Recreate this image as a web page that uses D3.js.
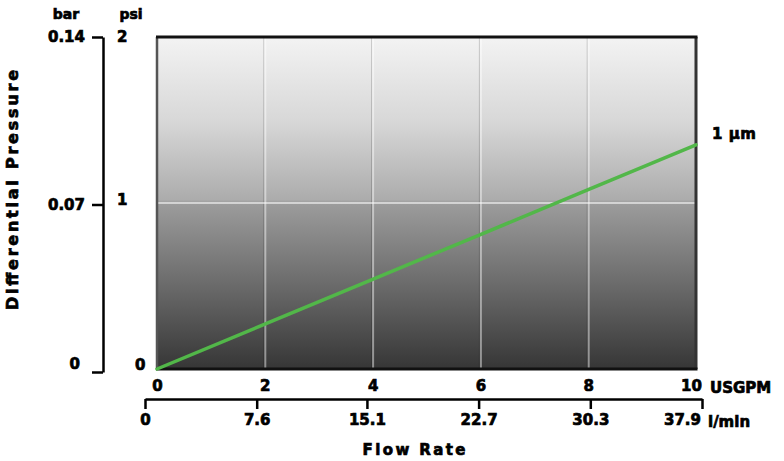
<!DOCTYPE html>
<html>
<head>
<meta charset="utf-8">
<script src="https://cdn.jsdelivr.net/npm/d3@7"></script>
<style>
  html, body { margin: 0; padding: 0; background: #fff; }
  svg text { font-family: "DejaVu Sans", "Liberation Sans", sans-serif; font-weight: bold; fill: #000; stroke: #000; stroke-width: 0.7px; }
</style>
</head>
<body>
<svg id="chart" width="784" height="461"></svg>
<script>
// ---- data ----
const usgpmTicks = [0, 2, 4, 6, 8, 10];
const lminTicks = [0, 7.6, 15.1, 22.7, 30.3, 37.9];
const psiTicks = [0, 1, 2];
const barTicks = [0, 0.07, 0.14];
const flowGPM = [0, 2, 4, 6, 8, 10];
const dpPsi = [0, 0.27, 0.54, 0.81, 1.08, 1.35];
const seriesLabel = "1 µm";

const svg = d3.select("#chart");

// ---- scales ----
const x = d3.scaleLinear().domain([0, 10]).range([157, 696]);
const yPsi = d3.scaleLinear().domain([0, 2]).range([369, 37]);
const yBar = d3.scaleLinear().domain([0, 0.14]).range([372, 37]);
const xL = d3.scaleLinear().domain([0, 37.9]).range([145, 702]);

// ---- background gradient ----
const defs = svg.append("defs");
const grad = defs.append("linearGradient").attr("id", "bg")
  .attr("x1", 0).attr("y1", 0).attr("x2", 0).attr("y2", 1);
[[0, "#f3f3f3"], [0.25, "#d8d8d8"], [0.49, "#acacac"], [0.5, "#9c9c9c"], [0.75, "#6a6a6a"], [1, "#363636"]]
  .forEach(([o, c]) => grad.append("stop").attr("offset", o).attr("stop-color", c));

const px0 = x(0), px1 = x(10), py0 = yPsi(2), py1 = yPsi(0);
svg.append("rect").attr("x", px0).attr("y", py0)
  .attr("width", px1 - px0).attr("height", py1 - py0)
  .attr("fill", "url(#bg)");

// grid
const grid = svg.append("g");
usgpmTicks.filter(d => d > 0 && d < 10).forEach(d => {
  grid.append("line").attr("x1", x(d) - 1).attr("x2", x(d) - 1).attr("y1", py0).attr("y2", py1)
    .attr("stroke", "rgba(0,0,0,0.18)").attr("stroke-width", 1);
  grid.append("line").attr("x1", x(d) + 0.5).attr("x2", x(d) + 0.5).attr("y1", py0).attr("y2", py1)
    .attr("stroke", "rgba(255,255,255,0.45)").attr("stroke-width", 2);
});
grid.append("line").attr("x1", px0).attr("x2", px1).attr("y1", yPsi(1)).attr("y2", yPsi(1))
  .attr("stroke", "rgba(255,255,255,0.55)").attr("stroke-width", 2);

// border
svg.append("line").attr("x1", px0).attr("x2", px0).attr("y1", py0).attr("y2", py1)
  .attr("stroke", "#555").attr("stroke-width", 2.5);
svg.append("line").attr("x1", px1).attr("x2", px1).attr("y1", py0).attr("y2", py1)
  .attr("stroke", "#333").attr("stroke-width", 3);
svg.append("line").attr("x1", px0 - 1).attr("x2", px1 + 1.5).attr("y1", py0).attr("y2", py0)
  .attr("stroke", "#111").attr("stroke-width", 3);
svg.append("line").attr("x1", px0 - 1).attr("x2", px1 + 1.5).attr("y1", py1).attr("y2", py1)
  .attr("stroke", "#111").attr("stroke-width", 3);

// series line
const line = d3.line().x((d, i) => x(flowGPM[i])).y(d => yPsi(d));
svg.append("path").datum(dpPsi).attr("d", line)
  .attr("fill", "none").attr("stroke", "#52b749").attr("stroke-width", 3.5)
  .attr("stroke-linecap", "round");
svg.append("text").attr("x", 712).attr("y", yPsi(dpPsi[dpPsi.length - 1]) - 10)
  .attr("dominant-baseline", "middle").attr("font-size", 15).attr("letter-spacing", 0.5).text(seriesLabel);

function styleText(sel) {
  sel.attr("font-size", 15).attr("font-family", "DejaVu Sans").attr("font-weight", "bold").attr("fill", "#000");
}

// ---- bar axis ----
const barAxis = d3.axisLeft(yBar).tickValues(barTicks).tickSize(11).tickSizeOuter(0)
  .tickPadding(7).tickFormat(d => d === 0 ? "0" : d3.format(".2f")(d));
const gBar = svg.append("g").attr("transform", "translate(103,0)").call(barAxis);
gBar.selectAll("path, line").attr("stroke", "#000").attr("stroke-width", 2.5);
styleText(gBar.selectAll("text"));
gBar.selectAll(".tick").filter(d => d === 0).select("text").attr("dy", "-0.25em").attr("x", -23);
svg.append("text").attr("x", 66).attr("y", 15).attr("text-anchor", "middle")
  .attr("dominant-baseline", "middle").attr("font-size", 14).text("bar");

// ---- psi axis ----
const psiAxis = d3.axisRight(yPsi).tickValues(psiTicks).tickSize(0).tickPadding(0).tickFormat(d3.format("d"));
const gPsi = svg.append("g").attr("transform", "translate(117,0)").call(psiAxis);
gPsi.select(".domain").remove();
styleText(gPsi.selectAll("text"));
gPsi.selectAll(".tick").filter(d => d === 1).select("text").attr("dy", "0.1em");
gPsi.selectAll(".tick").filter(d => d === 0).select("text").attr("x", 18).attr("dy", "0.05em");
svg.append("text").attr("x", 131).attr("y", 15).attr("text-anchor", "middle")
  .attr("dominant-baseline", "middle").attr("font-size", 14).text("psi");

// ---- USGPM axis ----
const gpmAxis = d3.axisBottom(x).tickValues(usgpmTicks).tickSize(0).tickPadding(11).tickFormat(d3.format("d"));
const gGpm = svg.append("g").attr("transform", `translate(0,${py1})`).call(gpmAxis);
gGpm.select(".domain").remove();
styleText(gGpm.selectAll("text"));
gGpm.selectAll(".tick").filter(d => d === 10).select("text").attr("x", -5);
svg.append("text").attr("x", 710).attr("y", 388).attr("dominant-baseline", "middle")
  .attr("font-size", 15).text("USGPM");

// ---- l/min axis ----
const lAxis = d3.axisBottom(xL).tickValues(lminTicks).tickSize(10).tickSizeOuter(0).tickPadding(5)
  .tickFormat(d => d === 0 ? "0" : d3.format(".1f")(d));
const gL = svg.append("g").attr("transform", "translate(0,399)").call(lAxis);
gL.selectAll("path, line").attr("stroke", "#000").attr("stroke-width", 2.5);
styleText(gL.selectAll("text"));
gL.selectAll(".tick").filter(d => d === 37.9).select("text").attr("x", -20);
svg.append("text").attr("x", 708).attr("y", 422).attr("dominant-baseline", "middle")
  .attr("font-size", 15).text("l/min");

// ---- axis titles ----
svg.append("text").attr("x", 414).attr("y", 450).attr("text-anchor", "middle")
  .attr("dominant-baseline", "middle").attr("font-size", 15)
  .attr("textLength", 103).attr("lengthAdjust", "spacing").text("Flow Rate");
svg.append("text").attr("transform", "translate(13,190) rotate(-90)").attr("text-anchor", "middle")
  .attr("dominant-baseline", "middle").attr("font-size", 16)
  .attr("textLength", 240).attr("lengthAdjust", "spacing").text("Differential Pressure");
</script>
</body>
</html>
